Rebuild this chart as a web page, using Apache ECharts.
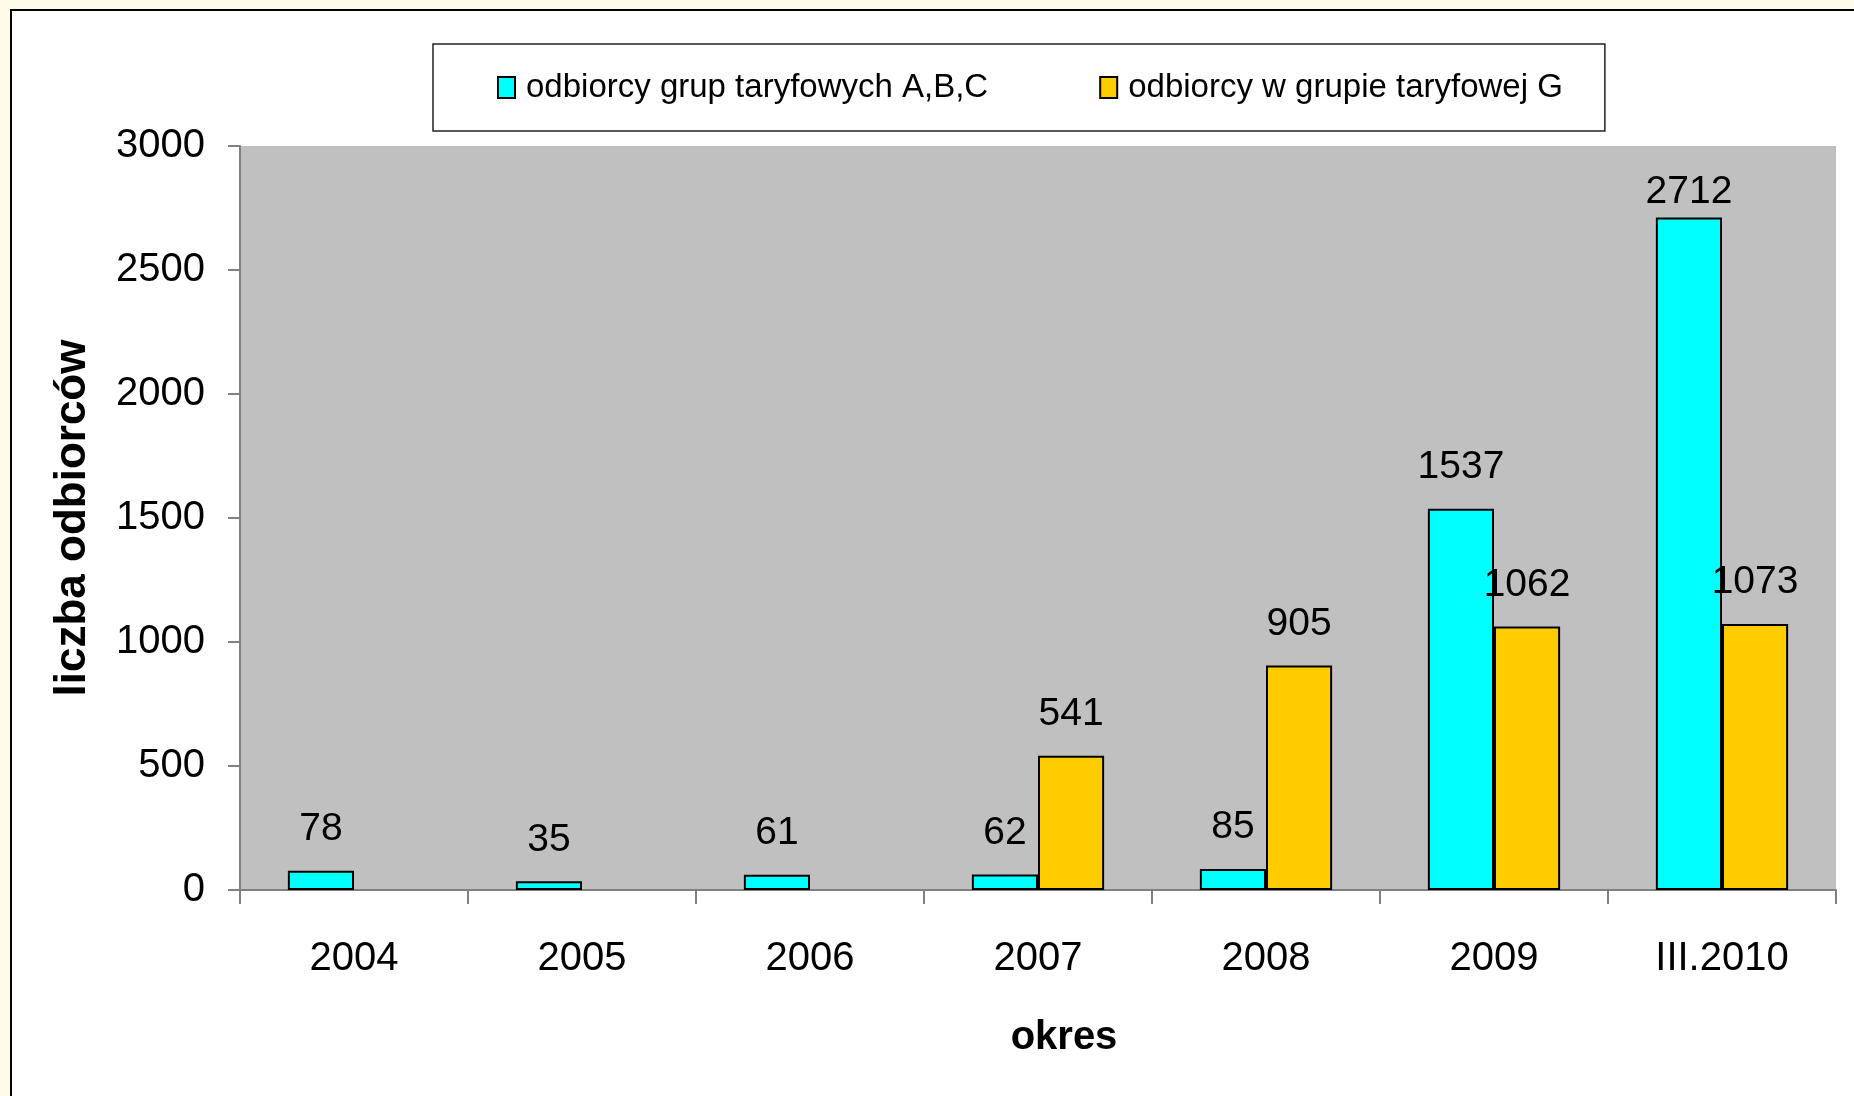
<!DOCTYPE html>
<html>
<head>
    <meta charset="UTF-8">
    <title>liczba odbiorców</title>
    <script src="https://cdn.jsdelivr.net/npm/echarts@6/dist/echarts.min.js"></script>
    <style>
        html, body { margin: 0; padding: 0; width: 1854px; height: 1096px; overflow: hidden; background: #FFFBE9; }
        /* ramka wykresu */
        .frame { position: absolute; left: 10px; top: 9px; width: 1900px; height: 1200px; border: 2px solid #000; background: #fff; }
        #main { position: absolute; left: 0; top: 0; width: 1854px; height: 1096px; }
    </style>
</head>
<body>
<div class="frame"></div>
<div id="main"></div>
<script type="text/javascript">
    // dane
    var okresy = ['2004', '2005', '2006', '2007', '2008', '2009', 'III.2010'];
    var grupyABC = [78, 35, 61, 62, 85, 1537, 2712];
    var grupaG = ['-', '-', '-', 541, 905, 1062, 1073];
    var yTicks = [0, 500, 1000, 1500, 2000, 2500, 3000];

    var FONT = "'Liberation Sans', Arial, sans-serif";

    // etykiety przy górnej krawędzi - bliżej słupka
    function withLabels(arr) {
        return arr.map(function (v) {
            if (v !== '-' && v > 2500) {
                return { value: v, label: { distance: 6 } };
            }
            return v;
        });
    }

    var myChart = echarts.init(document.getElementById('main'));

    var option = {
        backgroundColor: 'transparent',
        textStyle: { fontFamily: FONT },
        legend: {
            left: 433,
            top: 44,
            padding: [27, 42, 27, 64],
            itemGap: 111,
            itemWidth: 17,
            itemHeight: 21,
            icon: 'rect',
            borderColor: '#222',
            borderWidth: 1.5,
            backgroundColor: '#fff',
            itemStyle: { borderColor: '#000', borderWidth: 2 },
            textStyle: { fontSize: 33, color: '#000', fontFamily: FONT, padding: [0, 0, 0, 6] },
            data: ['odbiorcy grup taryfowych A,B,C', 'odbiorcy w grupie taryfowej G']
        },
        grid: {
            left: 240,
            right: 18,
            top: 146,
            bottom: 206,
            show: true,
            backgroundColor: '#C0C0C0',
            borderWidth: 0
        },
        xAxis: {
            type: 'category',
            data: okresy,
            name: 'okres',
            nameLocation: 'middle',
            nameGap: 128,
            nameTextStyle: { fontSize: 40, fontWeight: 'bold', color: '#000', fontFamily: FONT, padding: [0, 0, 0, 52] },
            axisLine: { show: true, lineStyle: { color: '#808080', width: 2 } },
            axisTick: { show: true, length: 14, alignWithLabel: false, interval: 0, lineStyle: { color: '#808080', width: 2 } },
            axisLabel: { fontSize: 40, color: '#000', margin: 49, interval: 0, fontFamily: FONT }
        },
        yAxis: {
            type: 'value',
            min: yTicks[0],
            max: yTicks[yTicks.length - 1],
            interval: 500,
            name: 'liczba odbiorców',
            nameLocation: 'middle',
            nameGap: 145,
            nameTextStyle: { fontSize: 44, fontWeight: 'bold', color: '#000', fontFamily: FONT },
            splitLine: { show: false },
            axisLine: { show: true, lineStyle: { color: '#808080', width: 2 } },
            axisTick: { show: true, length: 12, lineStyle: { color: '#808080', width: 2 } },
            axisLabel: {
                fontSize: 40, color: '#000', margin: 35, fontFamily: FONT,
                formatter: function (v) { return String(v); }
            }
        },
        series: [
            {
                name: 'odbiorcy grup taryfowych A,B,C',
                type: 'bar',
                data: withLabels(grupyABC),
                barGap: '0%',
                barCategoryGap: '42%',
                itemStyle: { color: '#00FFFF', borderColor: '#000', borderWidth: 2 },
                label: { show: true, position: 'top', distance: 22, fontSize: 39, color: '#000', fontFamily: FONT }
            },
            {
                name: 'odbiorcy w grupie taryfowej G',
                type: 'bar',
                data: withLabels(grupaG),
                itemStyle: { color: '#FFCC00', borderColor: '#000', borderWidth: 2 },
                label: { show: true, position: 'top', distance: 22, fontSize: 39, color: '#000', fontFamily: FONT }
            }
        ]
    };

    myChart.setOption(option);
</script>
</body>
</html>
